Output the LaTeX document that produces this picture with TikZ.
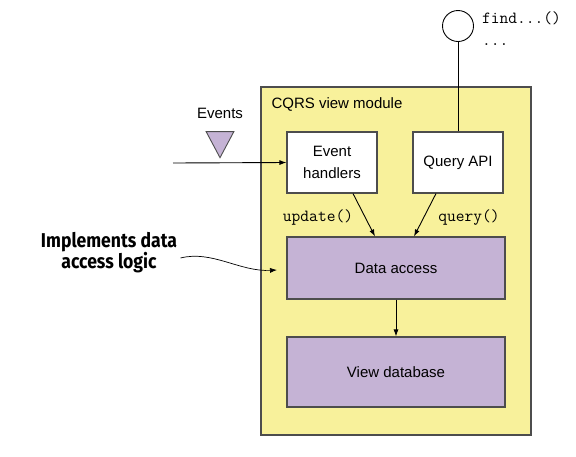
\documentclass[tikz,border=0pt]{standalone}
\usepackage{fontspec}
\setmainfont{Liberation Sans}
\newfontfamily\notefont[FakeStretch=0.88]{Fira Sans}
\usetikzlibrary{arrows.meta, shapes.geometric}
\definecolor{moduleyellow}{RGB}{248,241,155}
\definecolor{boxpurple}{RGB}{197,179,213}
\definecolor{edgegray}{RGB}{77,77,77}
\tikzstyle{every node}=[font=\fontsize{15}{22}\selectfont]
\tikzstyle{box}=[draw=edgegray, line width=1.1pt, rectangle, align=center, inner sep=0pt]
\tikzstyle{arr}=[-{Latex[length=7pt, width=5pt]}, line width=0.9pt]
\tikzstyle{code}=[font=\ttfamily\fontsize{17}{20}\selectfont]

\begin{document}
\begin{tikzpicture}[x=1pt, y=-1pt]
\useasboundingbox (0,0) rectangle (576,456);
% Module
    \node[box, fill=moduleyellow, minimum width=270pt, minimum height=348pt] (module) at (396,261) {};
    \node[anchor=west] (title) at (268,104) {CQRS view module};
% Boxes
    \node[box, fill=white, minimum width=90pt, minimum height=61pt] (handlers) at (332,162.5) {Event\\handlers};
    \node[box, fill=white, minimum width=90pt, minimum height=61pt] (query) at (458,162.5) {Query API};
    \node[box, fill=boxpurple, minimum width=218pt, minimum height=62pt] (access) at (396,268) {Data access};
    \node[box, fill=boxpurple, minimum width=218pt, minimum height=70pt] (db) at (396,372) {View database};
% Port
    \node[circle, draw, line width=0.9pt, minimum size=31pt, inner sep=0pt] (port) at (458,26) {};
    \node[code, anchor=base west, inner sep=0pt] (find) at (482,23) {find...()};
    \node[code, anchor=base west, inner sep=0pt] (more) at (482,45) {...};
    \draw[line width=0.9pt] (port) -- (query);
% Events
    \node (events) at (220,113) {Events};
    \node[draw=edgegray, line width=0.9pt, fill=boxpurple, isosceles triangle, shape border rotate=-90,
          isosceles triangle apex angle=56, minimum height=26pt, inner sep=0pt] (tri) at (220,140) {};
    \coordinate (in) at (173,163);
    \draw[arr] (in) -- (handlers.west);
% Calls
    \draw[arr] ([xshift=21pt]handlers.south) -- ([xshift=-21pt]access.north);
    \draw[arr] ([xshift=-22pt]query.south) -- ([xshift=18pt]access.north);
    \node[code, anchor=base] (update) at (318,221) {update()};
    \node[code, anchor=base] (querycall) at (469,221) {query()};
    \draw[arr] (access) -- (db);
% Annotation
    \node[align=center, font=\notefont\bfseries\fontsize{20}{21}\selectfont] (note) at (109,253) {Implements data\\access logic};
    \coordinate (tip) at (277,270);
    \draw[arr, line width=0.7pt] ([yshift=-5pt]note.east) .. controls (212,250) and (240,272) .. (tip);
\end{tikzpicture}
\end{document}
